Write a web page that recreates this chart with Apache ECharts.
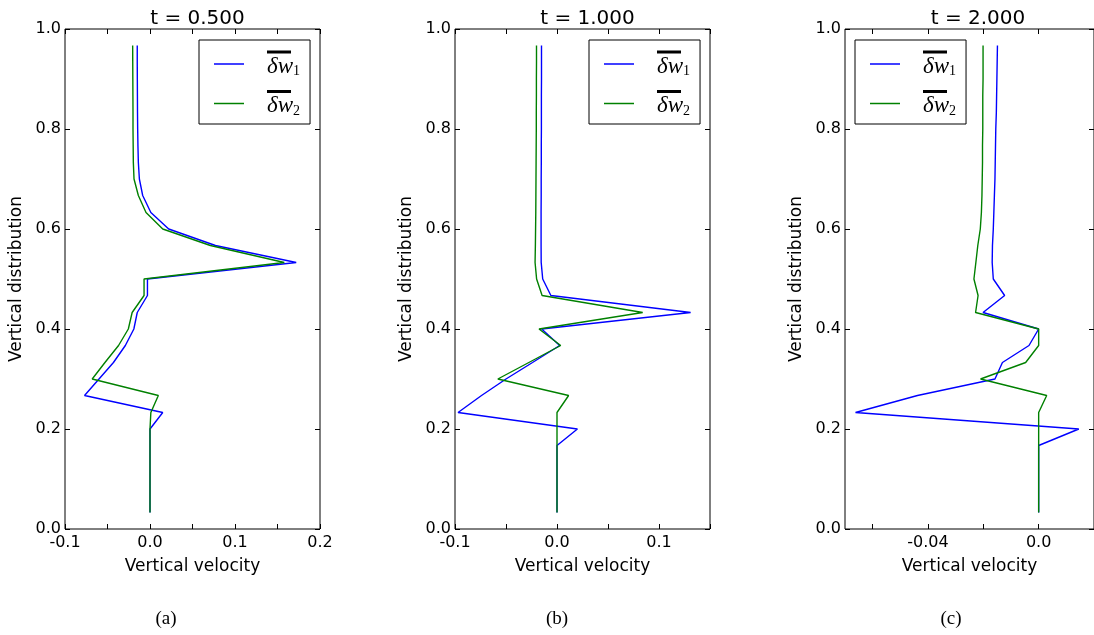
<!DOCTYPE html>
<html>
<head>
<meta charset="utf-8">
<script src="https://cdn.jsdelivr.net/npm/echarts@6/dist/echarts.min.js"></script>
<style>
  html, body { margin: 0; padding: 0; background: #fff; }
  #chart { width: 1094px; height: 635px; }
</style>
</head>
<body>
<div id="chart"></div>
<script>
// vertical levels (same for every panel)
const heights = [0.033, 0.067, 0.100, 0.133, 0.167, 0.200, 0.233, 0.267, 0.300, 0.333,
  0.367, 0.400, 0.433, 0.467, 0.500, 0.533, 0.567, 0.600, 0.633, 0.667,
  0.700, 0.733, 0.767, 0.800, 0.833, 0.867, 0.900, 0.933, 0.967];

// t = 0.500
const w1A = [0, 0, 0, 0, 0, 0, 0.015, -0.077, -0.060, -0.043,
  -0.029, -0.019, -0.015, -0.003, -0.003, 0.172, 0.077, 0.022, 0.001, -0.0086,
  -0.0125, -0.0137, -0.0142, -0.0145, -0.0147, -0.0148, -0.0149, -0.015, -0.015];
const w2A = [0, 0, 0, 0, 0, 0, 0.001, 0.0098, -0.068, -0.053,
  -0.037, -0.0255, -0.021, -0.007, -0.007, 0.158, 0.071, 0.015, -0.0047, -0.0137,
  -0.0188, -0.0196, -0.0198, -0.0200, -0.0200, -0.0201, -0.0202, -0.0203, -0.0204];

// t = 1.000
const w1B = [0, 0, 0, 0, 0, 0.020, -0.097, -0.074, -0.050, -0.024,
  0.0026, -0.015, 0.131, -0.006, -0.014, -0.0155, -0.0156, -0.0156, -0.0156, -0.0155,
  -0.0155, -0.0154, -0.0154, -0.0153, -0.0153, -0.0153, -0.0152, -0.0152, -0.0152];
const w2B = [0, 0, 0, 0, 0, 0, 0, 0.0114, -0.058, -0.0276,
  0.0036, -0.0176, 0.084, -0.0146, -0.020, -0.0215, -0.0212, -0.0210, -0.0208, -0.0207,
  -0.0206, -0.0205, -0.0204, -0.0203, -0.0203, -0.0202, -0.0202, -0.0201, -0.0201];

// t = 2.000
const w1C = [0, 0, 0, 0, 0, 0.0145, -0.0662, -0.0438, -0.0158, -0.0131,
  -0.0035, 0, -0.0201, -0.0123, -0.0164, -0.0168, -0.0167, -0.0164, -0.0162, -0.0160,
  -0.0158, -0.0157, -0.0156, -0.0155, -0.0153, -0.0152, -0.0151, -0.0150, -0.0149];
const w2C = [0, 0, 0, 0, 0, 0, 0, 0.0029, -0.021, -0.0047,
  0, 0, -0.0228, -0.0219, -0.0234, -0.0227, -0.0220, -0.0211, -0.0207, -0.0205,
  -0.0204, -0.0203, -0.0203, -0.0202, -0.0202, -0.0202, -0.0201, -0.0201, -0.0201];

const titles = ['t = 0.500', 't = 1.000', 't = 2.000'];
const captions = ['(a)', '(b)', '(c)'];

// x ranges, tick positions and labelled values per panel
const xMin = [-0.1, -0.1, -0.07];
const xMax = [0.2, 0.15, 0.02];
const xTicks = [
  [-0.1, -0.05, 0, 0.05, 0.1, 0.15, 0.2],
  [-0.1, -0.05, 0, 0.05, 0.1, 0.15],
  [-0.06, -0.04, -0.02, 0, 0.02]
];
const xLabelVals = [[-0.1, 0, 0.1, 0.2], [-0.1, 0, 0.1], [-0.04, 0]];
const xLabelText = [['-0.1', '0.0', '0.1', '0.2'], ['-0.1', '0.0', '0.1'], ['-0.04', '0.0']];
const yTicks = [0, 0.2, 0.4, 0.6, 0.8, 1.0];
const yLabelText = ['0.0', '0.2', '0.4', '0.6', '0.8', '1.0'];

const w1 = [w1A, w1B, w1C];
const w2 = [w2A, w2B, w2C];

const gridLeft = [65, 455, 845];
const gridW = [255, 255, 256];
const legendLeft = [199, 589, 855];
const captionX = [161, 552, 946];

const font = 'DejaVu Sans';
const chart = echarts.init(document.getElementById('chart'));

function pairs(xs) {
  return xs.map((x, i) => [x, heights[i]]);
}

const tickStyle = { color: '#000', width: 1 };
const grids = [], xAxes = [], yAxes = [], series = [], legends = [], titleList = [];

for (let p = 0; p < 3; p++) {
  grids.push({
    left: gridLeft[p], top: 29, width: gridW[p], height: 500,
    show: true, borderColor: '#000', borderWidth: 1, backgroundColor: 'transparent'
  });
  const lv = xLabelVals[p], lt = xLabelText[p];
  xAxes.push({
    type: 'value', gridIndex: p, min: xMin[p], max: xMax[p], position: 'bottom',
    name: 'Vertical velocity', nameLocation: 'middle', nameGap: 29, nameMoveOverlap: false,
    nameTextStyle: { fontFamily: font, fontSize: 17, color: '#000' },
    axisLine: { show: false, onZero: false },
    splitLine: { show: false },
    axisTick: { show: true, inside: true, length: 5, customValues: xTicks[p], lineStyle: tickStyle },
    axisLabel: {
      customValues: lv, margin: 6, fontFamily: font, fontSize: 16, color: '#000',
      formatter: function (v) {
        for (let i = 0; i < lv.length; i++) if (Math.abs(lv[i] - v) < 1e-9) return lt[i];
        return '';
      }
    }
  });
  yAxes.push({
    type: 'value', gridIndex: p, min: 0, max: 1, position: 'left',
    name: 'Vertical distribution', nameLocation: 'middle', nameGap: 40, nameRotate: 90,
    nameMoveOverlap: false,
    nameTextStyle: { fontFamily: font, fontSize: 17, color: '#000' },
    axisLine: { show: false, onZero: false },
    splitLine: { show: false },
    axisTick: { show: true, inside: true, length: 5, customValues: yTicks, lineStyle: tickStyle },
    axisLabel: {
      customValues: yTicks, margin: 4, fontFamily: font, fontSize: 16, color: '#000',
      formatter: function (v) {
        for (let i = 0; i < yTicks.length; i++) if (Math.abs(yTicks[i] - v) < 1e-9) return yLabelText[i];
        return '';
      }
    }
  });
  series.push({
    name: 'w1', type: 'line', xAxisIndex: p, yAxisIndex: p, data: pairs(w1[p]),
    symbol: 'none', color: '#0000ff', lineStyle: { width: 1.4, color: '#0000ff' }, animation: false
  });
  series.push({
    name: 'w2', type: 'line', xAxisIndex: p, yAxisIndex: p, data: pairs(w2[p]),
    symbol: 'none', color: '#008000', lineStyle: { width: 1.4, color: '#008000' }, animation: false
  });
  legends.push({
    data: ['w1', 'w2'], orient: 'vertical', left: legendLeft[p], top: 40,
    icon: 'rect', itemWidth: 30, itemHeight: 1.5, itemGap: 7,
    padding: [6, 10, 6, 15], borderColor: '#000', borderWidth: 1, borderRadius: 0,
    backgroundColor: '#fff', selectedMode: false,
    formatter: function (name) {
      return '{h|}{ol|}\n{g|}{a|\u03b4w}{s|' + (name === 'w1' ? '1' : '2') + '}';
    },
    textStyle: {
      rich: {
        h: { width: 18, lineHeight: 5 },
        ol: { width: 24, height: 3, lineHeight: 5, backgroundColor: '#000' },
        g: { width: 18, lineHeight: 24 },
        a: { fontFamily: 'Liberation Serif', fontStyle: 'italic', fontSize: 23, lineHeight: 24, color: '#000' },
        s: { fontFamily: 'Liberation Serif', fontSize: 14, lineHeight: 11, verticalAlign: 'bottom', color: '#000' }
      }
    }
  });
  titleList.push({
    text: titles[p], left: gridLeft[p] + gridW[p] / 2, textAlign: 'center', top: 4,
    textStyle: { fontFamily: font, fontSize: 20, fontWeight: 'normal', color: '#000' }
  });
  titleList.push({
    text: captions[p], left: captionX[p], textAlign: 'center', top: 605,
    textStyle: { fontFamily: 'Liberation Serif', fontSize: 19, fontWeight: 'normal', color: '#000' }
  });
}

// mirror axes (top and right) carrying only inner ticks
for (let p = 0; p < 3; p++) {
  xAxes.push({
    type: 'value', gridIndex: p, min: xMin[p], max: xMax[p], position: 'top',
    axisLine: { show: false, onZero: false }, splitLine: { show: false }, axisLabel: { show: false },
    axisTick: { show: true, inside: true, length: 5, customValues: xTicks[p], lineStyle: tickStyle }
  });
  yAxes.push({
    type: 'value', gridIndex: p, min: 0, max: 1, position: 'right',
    axisLine: { show: false, onZero: false }, splitLine: { show: false }, axisLabel: { show: false },
    axisTick: { show: true, inside: true, length: 5, customValues: yTicks, lineStyle: tickStyle }
  });
}

chart.setOption({
  animation: false,
  backgroundColor: '#fff',
  title: titleList,
  legend: legends,
  grid: grids,
  xAxis: xAxes,
  yAxis: yAxes,
  series: series
});
</script>
</body>
</html>
